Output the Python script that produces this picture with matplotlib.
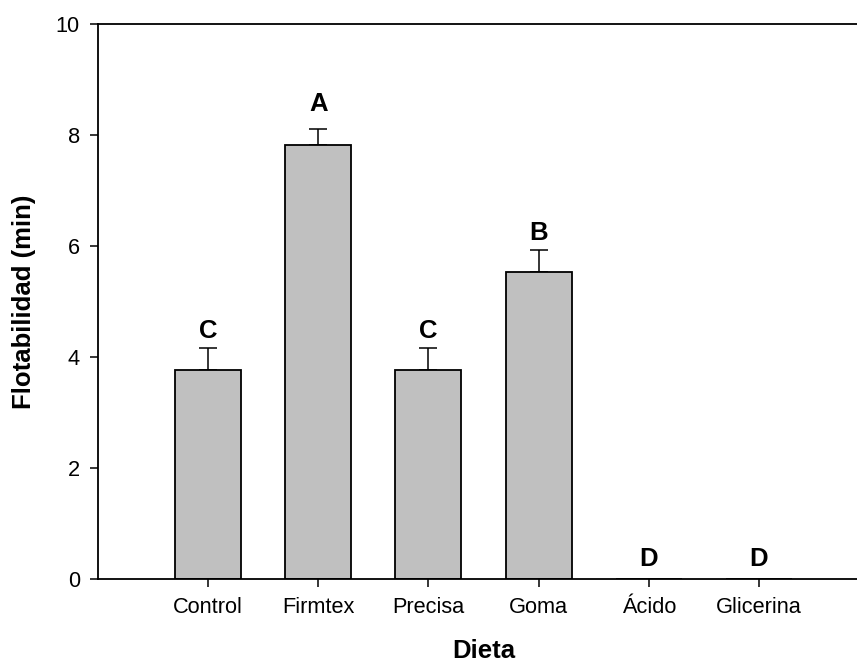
import matplotlib
matplotlib.use("Agg")
import matplotlib.pyplot as plt

plt.rcParams['font.family'] = ['Liberation Sans', 'DejaVu Sans']

categories = ["Control", "Firmtex", "Precisa", "Goma", "Ácido", "Glicerina"]
values = [3.76, 7.82, 3.76, 5.53, 0.0, 0.0]
errors = [0.40, 0.29, 0.40, 0.40, 0.0, 0.0]
letters = ["C", "A", "C", "B", "D", "D"]
letter_offsets = [3.5, 9, 3.5, 3.5, 5.5, 5.5]  # points above error cap

fig = plt.figure(figsize=(8.57, 6.65), dpi=100)
ax = fig.add_axes([98/857, 1-578.7/665, (869-98)/857, (578.7-24)/665])

x = list(range(1, len(categories) + 1))
ax.bar(x, values, width=0.6, color="#C0C0C0", edgecolor="black", linewidth=1.3, zorder=2)

for xi, v, e in zip(x, values, errors):
    if v > 0:
        ax.errorbar([xi], [v], yerr=[[0], [e]], fmt="none", ecolor="black",
                    elinewidth=1.1, capsize=6.5, capthick=1.1, zorder=1)

for xi, v, e, l, off in zip(x, values, errors, letters, letter_offsets):
    ax.annotate(l, xy=(xi, v + e), xytext=(0, off), textcoords="offset points",
                ha="center", va="bottom", fontsize=18.5, fontweight="bold")

ax.set_xlim(0, 7)
ax.set_ylim(0, 10)
ax.set_xticks(x)
ax.set_xticklabels(categories)
ax.set_yticks([0, 2, 4, 6, 8, 10])

for s in ["top", "bottom", "left", "right"]:
    ax.spines[s].set_linewidth(1.3)
ax.spines["right"].set_visible(False)

ax.tick_params(axis="both", direction="out", length=6, width=1.1, labelsize=15.7, pad=7)
ax.set_xlabel("Dieta", fontsize=18.5, fontweight="bold", labelpad=15)
ax.set_ylabel("Flotabilidad (min)", fontsize=18.5, fontweight="bold", labelpad=14)

fig.savefig("out.png", dpi=100)
